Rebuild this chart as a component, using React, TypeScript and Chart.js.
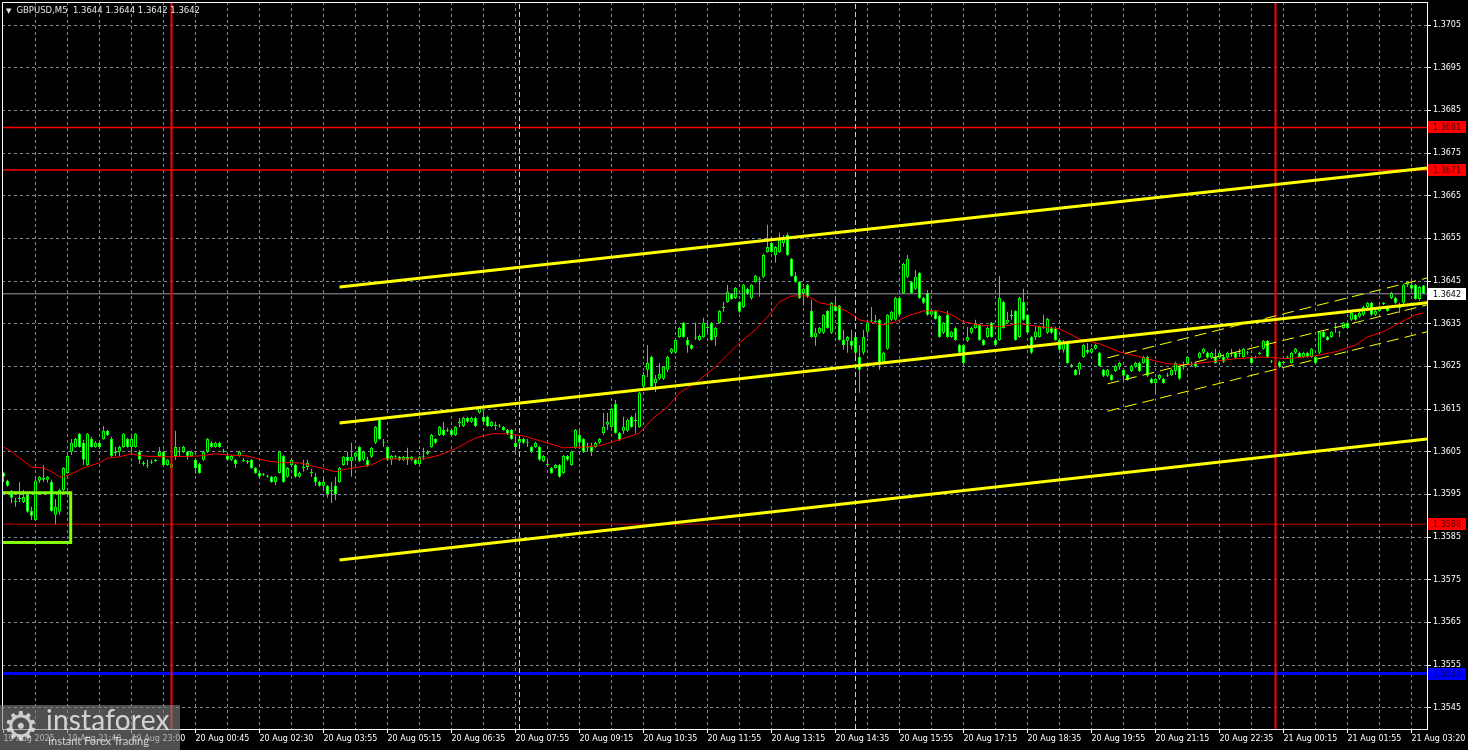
import React, { useEffect, useRef } from "react";
import { Chart, registerables } from "chart.js";

Chart.register(...registerables);

// ---------------- data ----------------
const SYMBOL_TITLE = "GBPUSD,M5";
const LAST_BAR = [1.3644, 1.3644, 1.3642, 1.3642];

const X_LABELS = [
  "19 Aug 2025", "19 Aug 21:40", "19 Aug 23:00", "20 Aug 00:45", "20 Aug 02:30", "20 Aug 03:55",
  "20 Aug 05:15", "20 Aug 06:35", "20 Aug 07:55", "20 Aug 09:15", "20 Aug 10:35", "20 Aug 11:55",
  "20 Aug 13:15", "20 Aug 14:35", "20 Aug 15:55", "20 Aug 17:15", "20 Aug 18:35", "20 Aug 19:55",
  "20 Aug 21:15", "20 Aug 22:35", "21 Aug 00:15", "21 Aug 01:55", "21 Aug 03:20",
];

const Y_TICKS = [
  1.3545, 1.3555, 1.3565, 1.3575, 1.3585, 1.3595, 1.3605, 1.3615, 1.3625,
  1.3635, 1.3645, 1.3655, 1.3665, 1.3675, 1.3685, 1.3695, 1.3705,
];

const OPENS = [
  1.36000,1.35982,1.35958,1.35935,1.35939,1.35932,1.35949,1.35911,1.35890,1.35982,
  1.35989,1.35984,1.35979,1.35902,1.35909,1.35960,1.36000,1.36050,1.36061,1.36092,
  1.36071,1.36019,1.36080,1.36061,1.36071,1.36080,1.36099,1.36080,1.36047,1.36050,
  1.36061,1.36080,1.36061,1.36061,1.36050,1.36024,1.36019,1.36024,1.36028,1.36040,
  1.36050,1.36019,1.36021,1.36040,1.36052,1.36050,1.36050,1.36040,1.36031,1.36021,
  1.36031,1.36050,1.36071,1.36061,1.36071,1.36052,1.36040,1.36031,1.36031,1.36040,
  1.36031,1.36028,1.36031,1.36012,1.36000,1.35996,1.35993,1.35991,1.35979,1.36000,
  1.36040,1.35991,1.36019,1.36019,1.35991,1.36012,1.36014,1.36003,1.35991,1.35979,
  1.35970,1.35970,1.35958,1.35970,1.35979,1.36019,1.36038,1.36028,1.36038,1.36061,
  1.36031,1.36031,1.36038,1.36071,1.36125,1.36073,1.36061,1.36031,1.36040,1.36038,
  1.36031,1.36038,1.36031,1.36031,1.36021,1.36038,1.36045,1.36061,1.36080,1.36089,
  1.36101,1.36099,1.36101,1.36089,1.36117,1.36110,1.36129,1.36120,1.36129,1.36141,
  1.36132,1.36132,1.36110,1.36113,1.36110,1.36108,1.36101,1.36101,1.36071,1.36071,
  1.36080,1.36073,1.36061,1.36061,1.36061,1.36028,1.36021,1.36012,1.36012,1.36019,
  1.36000,1.36040,1.36019,1.36059,1.36089,1.36080,1.36059,1.36061,1.36061,1.36071,
  1.36094,1.36113,1.36108,1.36162,1.36094,1.36099,1.36099,1.36132,1.36122,1.36108,
  1.36202,1.36242,1.36272,1.36211,1.36221,1.36221,1.36242,1.36282,1.36282,1.36319,
  1.36352,1.36312,1.36300,1.36317,1.36312,1.36319,1.36343,1.36352,1.36319,1.36352,
  1.36387,1.36401,1.36420,1.36410,1.36401,1.36389,1.36432,1.36410,1.36448,1.36455,
  1.36460,1.36518,1.36539,1.36511,1.36518,1.36539,1.36558,1.36502,1.36462,1.36448,
  1.36422,1.36441,1.36380,1.36319,1.36329,1.36329,1.36380,1.36329,1.36392,1.36392,
  1.36312,1.36310,1.36310,1.36319,1.36272,1.36282,1.36331,1.36357,1.36357,1.36359,
  1.36261,1.36291,1.36359,1.36359,1.36410,1.36422,1.36460,1.36448,1.36432,1.36469,
  1.36410,1.36422,1.36371,1.36380,1.36368,1.36329,1.36371,1.36319,1.36340,1.36300,
  1.36300,1.36310,1.36329,1.36340,1.36347,1.36312,1.36319,1.36352,1.36312,1.36312,
  1.36401,1.36352,1.36368,1.36380,1.36319,1.36401,1.36371,1.36319,1.36319,1.36319,
  1.36340,1.36329,1.36340,1.36340,1.36312,1.36289,1.36307,1.36254,1.36242,1.36242,
  1.36272,1.36289,1.36282,1.36291,1.36282,1.36242,1.36228,1.36230,1.36239,1.36249,
  1.36242,1.36230,1.36239,1.36249,1.36258,1.36258,1.36272,1.36221,1.36211,1.36221,
  1.36221,1.36228,1.36230,1.36239,1.36249,1.36249,1.36258,1.36256,1.36258,1.36270,
  1.36282,1.36282,1.36270,1.36272,1.36270,1.36272,1.36270,1.36279,1.36282,1.36279,
  1.36272,1.36284,1.36272,1.36270,1.36279,1.36291,1.36310,1.36263,1.36270,1.36261,
  1.36258,1.36270,1.36258,1.36282,1.36282,1.36272,1.36282,1.36272,1.36272,1.36282,
  1.36331,1.36319,1.36319,1.36340,1.36331,1.36340,1.36352,1.36359,1.36371,1.36366,
  1.36371,1.36389,1.36399,1.36371,1.36380,1.36396,1.36389,1.36410,1.36410,1.36389,
  1.36399,1.36441,1.36441,1.36441,1.36408,1.36440,
];

const HIGHS = [
  1.36003,1.35984,1.35960,1.35942,1.35979,1.35960,1.35953,1.35921,1.35991,1.35993,
  1.36019,1.35993,1.35984,1.35939,1.35963,1.36014,1.36042,1.36080,1.36082,1.36094,
  1.36078,1.36094,1.36085,1.36075,1.36073,1.36110,1.36101,1.36085,1.36061,1.36064,
  1.36094,1.36082,1.36092,1.36094,1.36054,1.36028,1.36031,1.36031,1.36033,1.36061,
  1.36052,1.36033,1.36026,1.36099,1.36061,1.36064,1.36052,1.36052,1.36035,1.36024,
  1.36052,1.36082,1.36075,1.36073,1.36073,1.36057,1.36042,1.36042,1.36033,1.36052,
  1.36035,1.36031,1.36033,1.36014,1.36003,1.36000,1.35996,1.35993,1.35993,1.36052,
  1.36042,1.36014,1.36033,1.36021,1.36003,1.36031,1.36031,1.36010,1.36000,1.35982,
  1.35991,1.35972,1.35979,1.35991,1.36014,1.36040,1.36050,1.36071,1.36050,1.36064,
  1.36052,1.36038,1.36061,1.36110,1.36129,1.36080,1.36064,1.36042,1.36042,1.36040,
  1.36040,1.36059,1.36040,1.36033,1.36040,1.36059,1.36054,1.36092,1.36082,1.36110,
  1.36120,1.36106,1.36103,1.36110,1.36129,1.36132,1.36132,1.36132,1.36132,1.36155,
  1.36143,1.36134,1.36122,1.36120,1.36115,1.36110,1.36103,1.36103,1.36085,1.36082,
  1.36082,1.36080,1.36064,1.36073,1.36064,1.36042,1.36028,1.36014,1.36021,1.36021,
  1.36042,1.36042,1.36052,1.36103,1.36101,1.36082,1.36071,1.36071,1.36073,1.36082,
  1.36141,1.36141,1.36153,1.36171,1.36096,1.36132,1.36127,1.36134,1.36141,1.36190,
  1.36237,1.36300,1.36275,1.36230,1.36258,1.36251,1.36275,1.36293,1.36314,1.36343,
  1.36354,1.36319,1.36303,1.36352,1.36324,1.36364,1.36352,1.36354,1.36343,1.36382,
  1.36401,1.36441,1.36422,1.36436,1.36404,1.36443,1.36434,1.36443,1.36464,1.36460,
  1.36514,1.36582,1.36542,1.36532,1.36563,1.36558,1.36563,1.36504,1.36471,1.36450,
  1.36434,1.36443,1.36406,1.36340,1.36343,1.36373,1.36382,1.36401,1.36413,1.36394,
  1.36336,1.36321,1.36336,1.36321,1.36300,1.36336,1.36359,1.36389,1.36371,1.36361,
  1.36284,1.36373,1.36380,1.36413,1.36413,1.36493,1.36511,1.36450,1.36476,1.36471,
  1.36413,1.36429,1.36382,1.36382,1.36371,1.36354,1.36380,1.36333,1.36343,1.36303,
  1.36303,1.36343,1.36343,1.36359,1.36350,1.36314,1.36343,1.36354,1.36314,1.36462,
  1.36404,1.36378,1.36382,1.36382,1.36413,1.36432,1.36373,1.36321,1.36343,1.36345,
  1.36371,1.36364,1.36343,1.36343,1.36314,1.36312,1.36310,1.36256,1.36244,1.36261,
  1.36303,1.36305,1.36293,1.36303,1.36284,1.36244,1.36244,1.36232,1.36254,1.36261,
  1.36244,1.36232,1.36254,1.36261,1.36261,1.36275,1.36275,1.36223,1.36223,1.36232,
  1.36223,1.36235,1.36244,1.36261,1.36251,1.36261,1.36275,1.36261,1.36261,1.36284,
  1.36293,1.36284,1.36284,1.36291,1.36284,1.36275,1.36284,1.36291,1.36284,1.36291,
  1.36293,1.36286,1.36275,1.36275,1.36284,1.36312,1.36312,1.36265,1.36275,1.36263,
  1.36263,1.36275,1.36284,1.36293,1.36284,1.36284,1.36284,1.36293,1.36275,1.36333,
  1.36333,1.36321,1.36333,1.36352,1.36333,1.36354,1.36354,1.36378,1.36373,1.36378,
  1.36392,1.36401,1.36401,1.36382,1.36392,1.36401,1.36392,1.36425,1.36413,1.36399,
  1.36443,1.36450,1.36448,1.36443,1.36439,1.36440,
];

const LOWS = [
  1.35979,1.35968,1.35930,1.35921,1.35932,1.35930,1.35907,1.35890,1.35888,1.35977,
  1.35979,1.35977,1.35909,1.35878,1.35902,1.35958,1.35998,1.36042,1.36059,1.36059,
  1.36019,1.36017,1.36059,1.36059,1.36059,1.36078,1.36087,1.36038,1.36040,1.36040,
  1.36059,1.36059,1.36050,1.36059,1.36021,1.36017,1.36012,1.36021,1.36026,1.36038,
  1.36017,1.36017,1.36010,1.36031,1.36040,1.36047,1.36031,1.36038,1.35998,1.35998,
  1.36028,1.36047,1.36059,1.36059,1.36059,1.36047,1.36028,1.36028,1.36012,1.36038,
  1.36026,1.36021,1.36010,1.35998,1.35989,1.35993,1.35989,1.35977,1.35972,1.35998,
  1.35977,1.35989,1.36017,1.35989,1.35989,1.36003,1.36007,1.35991,1.35970,1.35968,
  1.35960,1.35942,1.35930,1.35937,1.35977,1.36017,1.36019,1.35991,1.36035,1.36026,
  1.36028,1.36014,1.36035,1.36068,1.36078,1.36061,1.36028,1.36019,1.36033,1.36028,
  1.36028,1.36019,1.36028,1.36019,1.36019,1.36031,1.36042,1.36059,1.36068,1.36087,
  1.36087,1.36096,1.36087,1.36087,1.36108,1.36108,1.36117,1.36117,1.36108,1.36139,
  1.36117,1.36108,1.36108,1.36101,1.36106,1.36099,1.36089,1.36078,1.36050,1.36068,
  1.36068,1.36061,1.36047,1.36059,1.36028,1.36026,1.36014,1.35998,1.36010,1.35989,
  1.35998,1.36028,1.36017,1.36057,1.36061,1.36047,1.36050,1.36040,1.36059,1.36068,
  1.36089,1.36101,1.36106,1.36092,1.36075,1.36092,1.36096,1.36106,1.36094,1.36106,
  1.36195,1.36225,1.36200,1.36190,1.36218,1.36218,1.36237,1.36279,1.36279,1.36317,
  1.36317,1.36282,1.36289,1.36312,1.36310,1.36317,1.36328,1.36310,1.36298,1.36350,
  1.36378,1.36399,1.36406,1.36408,1.36375,1.36387,1.36418,1.36406,1.36446,1.36413,
  1.36457,1.36516,1.36516,1.36493,1.36516,1.36530,1.36509,1.36460,1.36446,1.36408,
  1.36392,1.36410,1.36317,1.36298,1.36326,1.36326,1.36338,1.36326,1.36378,1.36310,
  1.36289,1.36282,1.36289,1.36265,1.36188,1.36277,1.36319,1.36354,1.36352,1.36242,
  1.36258,1.36289,1.36357,1.36357,1.36368,1.36420,1.36457,1.36420,1.36429,1.36408,
  1.36396,1.36368,1.36368,1.36359,1.36317,1.36326,1.36317,1.36317,1.36310,1.36277,
  1.36251,1.36307,1.36326,1.36338,1.36310,1.36298,1.36317,1.36317,1.36298,1.36310,
  1.36338,1.36350,1.36359,1.36310,1.36317,1.36357,1.36326,1.36279,1.36312,1.36317,
  1.36338,1.36326,1.36326,1.36310,1.36286,1.36282,1.36256,1.36247,1.36228,1.36230,
  1.36270,1.36279,1.36279,1.36289,1.36249,1.36225,1.36225,1.36216,1.36237,1.36242,
  1.36218,1.36216,1.36237,1.36247,1.36237,1.36256,1.36225,1.36209,1.36183,1.36218,
  1.36209,1.36225,1.36228,1.36230,1.36218,1.36242,1.36256,1.36251,1.36247,1.36268,
  1.36279,1.36268,1.36268,1.36256,1.36268,1.36258,1.36268,1.36272,1.36268,1.36272,
  1.36270,1.36277,1.36256,1.36268,1.36277,1.36289,1.36270,1.36258,1.36228,1.36247,
  1.36256,1.36268,1.36256,1.36279,1.36270,1.36270,1.36270,1.36270,1.36256,1.36279,
  1.36317,1.36310,1.36317,1.36329,1.36319,1.36338,1.36338,1.36357,1.36357,1.36364,
  1.36368,1.36387,1.36368,1.36368,1.36378,1.36394,1.36378,1.36408,1.36396,1.36375,
  1.36396,1.36436,1.36429,1.36406,1.36404,1.36420,
];

const CLOSES = [
  1.35991,1.35970,1.35942,1.35932,1.35942,1.35944,1.35909,1.35900,1.35982,1.35991,
  1.35984,1.35991,1.35911,1.35921,1.35960,1.36012,1.36040,1.36071,1.36080,1.36061,
  1.36031,1.36092,1.36061,1.36071,1.36061,1.36099,1.36089,1.36040,1.36050,1.36061,
  1.36092,1.36061,1.36080,1.36092,1.36031,1.36021,1.36017,1.36026,1.36031,1.36050,
  1.36019,1.36031,1.36012,1.36061,1.36050,1.36061,1.36040,1.36050,1.36012,1.36000,
  1.36050,1.36080,1.36061,1.36071,1.36061,1.36050,1.36031,1.36040,1.36021,1.36050,
  1.36028,1.36026,1.36012,1.36000,1.35991,1.35998,1.35991,1.35979,1.35991,1.36050,
  1.35979,1.36012,1.36031,1.35991,1.36000,1.36014,1.36024,1.36000,1.35979,1.35970,
  1.35979,1.35951,1.35960,1.35951,1.36012,1.36038,1.36028,1.36038,1.36047,1.36028,
  1.36050,1.36019,1.36059,1.36108,1.36080,1.36071,1.36031,1.36040,1.36038,1.36031,
  1.36038,1.36031,1.36038,1.36021,1.36038,1.36040,1.36050,1.36089,1.36071,1.36108,
  1.36089,1.36101,1.36089,1.36108,1.36120,1.36129,1.36120,1.36129,1.36110,1.36153,
  1.36120,1.36110,1.36120,1.36110,1.36109,1.36101,1.36092,1.36080,1.36061,1.36080,
  1.36071,1.36071,1.36050,1.36071,1.36031,1.36040,1.36019,1.36000,1.36019,1.35991,
  1.36040,1.36031,1.36050,1.36101,1.36071,1.36050,1.36061,1.36050,1.36071,1.36080,
  1.36108,1.36120,1.36150,1.36094,1.36078,1.36108,1.36125,1.36108,1.36125,1.36188,
  1.36230,1.36258,1.36202,1.36221,1.36232,1.36249,1.36272,1.36291,1.36312,1.36340,
  1.36319,1.36300,1.36291,1.36319,1.36321,1.36352,1.36340,1.36312,1.36340,1.36380,
  1.36389,1.36425,1.36408,1.36434,1.36378,1.36441,1.36420,1.36441,1.36462,1.36453,
  1.36511,1.36530,1.36518,1.36530,1.36546,1.36549,1.36511,1.36462,1.36448,1.36410,
  1.36432,1.36413,1.36319,1.36329,1.36340,1.36371,1.36340,1.36399,1.36380,1.36312,
  1.36300,1.36319,1.36298,1.36282,1.36242,1.36319,1.36352,1.36359,1.36354,1.36258,
  1.36282,1.36371,1.36378,1.36410,1.36371,1.36490,1.36502,1.36422,1.36460,1.36410,
  1.36399,1.36371,1.36380,1.36361,1.36319,1.36352,1.36319,1.36331,1.36312,1.36282,
  1.36258,1.36319,1.36340,1.36350,1.36312,1.36300,1.36340,1.36319,1.36300,1.36410,
  1.36340,1.36359,1.36371,1.36312,1.36410,1.36359,1.36329,1.36282,1.36331,1.36343,
  1.36343,1.36361,1.36329,1.36312,1.36289,1.36305,1.36258,1.36251,1.36230,1.36258,
  1.36300,1.36282,1.36291,1.36300,1.36251,1.36228,1.36242,1.36218,1.36251,1.36258,
  1.36228,1.36218,1.36251,1.36258,1.36239,1.36272,1.36228,1.36211,1.36221,1.36230,
  1.36211,1.36230,1.36242,1.36258,1.36221,1.36251,1.36272,1.36254,1.36249,1.36282,
  1.36291,1.36270,1.36282,1.36258,1.36282,1.36261,1.36282,1.36282,1.36270,1.36282,
  1.36291,1.36282,1.36258,1.36272,1.36282,1.36310,1.36272,1.36261,1.36272,1.36249,
  1.36261,1.36272,1.36282,1.36291,1.36272,1.36282,1.36272,1.36291,1.36258,1.36331,
  1.36319,1.36312,1.36331,1.36343,1.36329,1.36352,1.36340,1.36375,1.36359,1.36375,
  1.36389,1.36399,1.36371,1.36380,1.36389,1.36399,1.36380,1.36422,1.36399,1.36387,
  1.36441,1.36448,1.36432,1.36408,1.36436,1.36420,
];

// moving average (red), read at selected bars
const MA_BARS = [
  0, 2, 4, 7, 10, 12, 14, 15, 17, 20, 24, 26, 29, 32, 35, 39, 42, 49, 53, 57,
  61, 63, 66, 70, 74, 77, 83, 86, 89, 92, 95, 105, 109, 113, 118, 122, 126, 130, 135, 140,
  145, 149, 154, 159, 162, 166, 169, 173, 178, 181, 184, 188, 191, 194, 197, 201, 204, 208, 211, 214,
  220, 223, 226, 230, 234, 237, 240, 244, 249, 254, 259, 264, 269, 274, 279, 285, 291, 296, 302, 308,
  315, 321, 328, 333, 338, 341, 345, 349, 353, 355,
];
const MA_VALUES = [
  1.36061,1.36050,1.36035,1.36014,1.36012,1.36003,1.35991,1.35991,1.35998,1.36012,
  1.36024,1.36035,1.36038,1.36045,1.36040,1.36038,1.36038,1.36040,1.36045,1.36042,
  1.36040,1.36035,1.36028,1.36024,1.36024,1.36017,1.36003,1.36010,1.36014,1.36019,
  1.36033,1.36033,1.36042,1.36057,1.36082,1.36092,1.36092,1.36087,1.36073,1.36059,
  1.36061,1.36064,1.36078,1.36094,1.36125,1.36155,1.36188,1.36211,1.36249,1.36277,
  1.36305,1.36336,1.36366,1.36401,1.36415,1.36415,1.36399,1.36392,1.36378,1.36359,
  1.36347,1.36354,1.36368,1.36380,1.36380,1.36371,1.36354,1.36347,1.36343,1.36350,
  1.36343,1.36338,1.36314,1.36303,1.36284,1.36270,1.36256,1.36254,1.36261,1.36268,
  1.36272,1.36268,1.36275,1.36284,1.36300,1.36319,1.36331,1.36352,1.36371,1.36375,
];

const RESISTANCE_LEVELS = [1.3681, 1.3671];
const SUPPORT_LEVEL = 1.3588;
const KEY_LEVEL = 1.3553;
const CURRENT_PRICE = 1.3642;

const RED_VLINE_BARS = [42, 318];
const GREEN_VLINE_BARS = [129, 213];

const CHANNEL_BARS = [84, 355.875];
const CHANNEL_UPPER = [1.36436, 1.36715];
const CHANNEL_MIDDLE = [1.36117, 1.36399];
const CHANNEL_LOWER = [1.35796, 1.3608];

const REG_BARS = [276, 355.875];
const REG_UPPER = [1.3627, 1.36457];
const REG_MIDDLE = [1.36209, 1.36394];
const REG_LOWER = [1.36145, 1.36331];

const BOX_BARS = [-3, 16.8];
const BOX_PRICES = [1.35954, 1.35837];

// ---------------- layout / style ----------------
const X_MIN = -0.375;
const X_MAX = 355.875;
const Y_MIN = 1.354;
const Y_MAX = 1.37104;
const FONT = '"DejaVu Sans", Verdana, sans-serif';
const GRID = "#7d8a98";
const LIME = "#00ff00";

const pts = (xs: number[], ys: number[]) => xs.map((x, k) => ({ x, y: ys[k] }));

function lineDs(data: any[], color: string, width: number, dash: number[], order: number) {
  return {
    type: "line" as const,
    data,
    borderColor: color,
    backgroundColor: color,
    borderWidth: width,
    borderDash: dash,
    pointRadius: 0,
    pointHoverRadius: 0,
    fill: false,
    tension: 0,
    clip: 0,
    order,
  };
}

export default function App() {
  const ref = useRef<HTMLCanvasElement>(null);

  useEffect(() => {
    document.body.style.margin = "0";
    document.body.style.background = "#000";
    const canvas = ref.current;
    if (!canvas) return;

    const idx = OPENS.map((_, i) => i);
    const wicks = idx.map((i) => ({ x: i, y: [LOWS[i], HIGHS[i]] }));
    const bodies = idx.map((i) => ({ x: i, y: [OPENS[i], CLOSES[i]] }));
    const bodyFill = idx.map((i) => (CLOSES[i] > OPENS[i] ? "#000000" : "#ffffff"));

    const hLine = (p: number) => pts([X_MIN, X_MAX], [p, p]);
    const vLine = (b: number) => pts([b, b], [Y_MIN, Y_MAX]);

    const tags = [
      { v: RESISTANCE_LEVELS[0], bg: "#ff0000", fg: "#5a0000" },
      { v: RESISTANCE_LEVELS[1], bg: "#ff0000", fg: "#5a0000" },
      { v: SUPPORT_LEVEL, bg: "#ff0000", fg: "#5a0000" },
      { v: CURRENT_PRICE, bg: "#ffffff", fg: "#000000" },
      { v: KEY_LEVEL, bg: "#0000ff", fg: "#000050" },
    ];

    const overlay = {
      id: "mtOverlay",
      afterDraw(chart: any) {
        const { ctx, chartArea } = chart;
        const { left, top, right, bottom } = chartArea;
        const y = chart.scales.y;
        ctx.save();
        ctx.strokeStyle = "#ffffff";
        ctx.lineWidth = 1;
        ctx.beginPath();
        ctx.moveTo(left + 0.5, bottom);
        ctx.lineTo(left + 0.5, top + 0.5);
        ctx.lineTo(right, top + 0.5);
        ctx.stroke();
        ctx.font = `8px ${FONT}`;
        ctx.textBaseline = "middle";
        ctx.textAlign = "left";
        tags.forEach((t) => {
          const py = Math.round(y.getPixelForValue(t.v));
          ctx.fillStyle = t.bg;
          ctx.fillRect(right + 1, py - 6, 38, 12);
          ctx.fillStyle = t.fg;
          ctx.fillText(t.v.toFixed(4), right + 6, py + 0.5);
        });
        ctx.restore();
      },
    };

    const chart = new Chart(canvas, {
      type: "bar",
      data: {
        datasets: [
          {
            type: "bar",
            data: wicks as any,
            backgroundColor: LIME,
            borderWidth: 0,
            barThickness: 1,
            grouped: false,
            inflateAmount: 0,
            minBarLength: 1,
            order: 30,
          } as any,
          {
            type: "bar",
            data: bodies as any,
            backgroundColor: bodyFill,
            borderColor: LIME,
            borderWidth: 1,
            borderSkipped: false,
            barThickness: 3,
            grouped: false,
            inflateAmount: 0,
            minBarLength: 1,
            order: 29,
          } as any,
          lineDs(pts(MA_BARS, MA_VALUES), "#ff0000", 1, [], 10) as any,
          lineDs(hLine(RESISTANCE_LEVELS[0]), "#ff0000", 1.5, [], 8) as any,
          lineDs(hLine(RESISTANCE_LEVELS[1]), "#ff0000", 1.5, [], 8) as any,
          lineDs(hLine(SUPPORT_LEVEL), "#d00000", 1, [], 8) as any,
          lineDs(hLine(KEY_LEVEL), "#0000ff", 3, [], 8) as any,
          lineDs(hLine(CURRENT_PRICE), "#9a9aa6", 1, [], 9) as any,
          ...RED_VLINE_BARS.map((b) => lineDs(vLine(b), "#ff0000", 2, [], 7) as any),
          ...GREEN_VLINE_BARS.map((b) => lineDs(vLine(b), "#adff2f", 1, [5, 3], 7) as any),
          lineDs(pts(CHANNEL_BARS, CHANNEL_UPPER), "#ffff00", 3, [], 5) as any,
          lineDs(pts(CHANNEL_BARS, CHANNEL_MIDDLE), "#ffff00", 3, [], 5) as any,
          lineDs(pts(CHANNEL_BARS, CHANNEL_LOWER), "#ffff00", 3, [], 5) as any,
          lineDs(pts(REG_BARS, REG_UPPER), "#ffff00", 1, [12, 6], 6) as any,
          lineDs(pts(REG_BARS, REG_MIDDLE), "#ffff00", 1, [12, 6], 6) as any,
          lineDs(pts(REG_BARS, REG_LOWER), "#ffff00", 1, [12, 6], 6) as any,
          lineDs(
            pts(
              [BOX_BARS[0], BOX_BARS[1], BOX_BARS[1], BOX_BARS[0]],
              [BOX_PRICES[0], BOX_PRICES[0], BOX_PRICES[1], BOX_PRICES[1]]
            ),
            "#7fff00",
            3,
            [],
            4
          ) as any,
        ],
      },
      options: {
        responsive: false,
        maintainAspectRatio: false,
        animation: false,
        devicePixelRatio: 1,
        events: [],
        layout: { padding: { left: 2, top: 2, right: 0, bottom: 0 } },
        plugins: { legend: { display: false }, tooltip: { enabled: false } },
        scales: {
          x: {
            type: "linear",
            min: X_MIN,
            max: X_MAX,
            offset: false,
            afterBuildTicks: (scale: any) => {
              const t: any[] = [];
              for (let i = 0; i <= (X_LABELS.length - 1) * 16; i += 8) t.push({ value: i });
              scale.ticks = t;
            },
            afterFit: (scale: any) => {
              scale.height = 21;
              scale.paddingLeft = 0;
              scale.paddingRight = 0;
            },
            ticks: {
              autoSkip: false,
              maxRotation: 0,
              minRotation: 0,
              align: "start",
              padding: 1,
              color: "#ffffff",
              font: { family: FONT, size: 8 },
              callback: (v: any) => {
                const i = Math.round(Number(v));
                return i % 16 === 0 ? X_LABELS[i / 16] ?? "" : "";
              },
            },
            grid: {
              offset: false,
              color: (c: any) => (c.tick && c.tick.value === 0 ? "rgba(0,0,0,0)" : GRID),
              lineWidth: 1,
              tickLength: 4,
              tickColor: (c: any) =>
                c.tick && Math.round(c.tick.value) % 16 === 0 ? "#ffffff" : "rgba(0,0,0,0)",
            },
            border: { display: true, color: "#ffffff", width: 1, dash: [3, 3] },
          } as any,
          y: {
            type: "linear",
            position: "right",
            min: Y_MIN,
            max: Y_MAX,
            beginAtZero: false,
            afterBuildTicks: (scale: any) => {
              scale.ticks = Y_TICKS.map((v) => ({ value: v }));
            },
            afterFit: (scale: any) => {
              scale.width = 41;
              scale.paddingTop = 0;
              scale.paddingBottom = 0;
            },
            ticks: {
              padding: 2,
              color: "#ffffff",
              font: { family: FONT, size: 8 },
              callback: (v: any) => Number(v).toFixed(4),
            },
            grid: { color: GRID, lineWidth: 1, tickLength: 4, tickColor: "#ffffff" },
            border: { display: true, color: "#ffffff", width: 1, dash: [3, 3] },
          } as any,
        },
      },
      plugins: [overlay],
    });

    return () => chart.destroy();
  }, []);

  return (
    <div
      style={{
        position: "fixed",
        left: 0,
        top: 0,
        width: 1468,
        height: 750,
        background: "#000",
        overflow: "hidden",
      }}
    >
      <canvas
        ref={ref}
        width={1468}
        height={750}
        style={{ position: "absolute", left: 0, top: 0, width: 1468, height: 750 }}
      />
      <div
        style={{
          position: "absolute",
          left: 6,
          top: 5,
          font: `8.5px ${FONT}`,
          lineHeight: "10px",
          color: "#e2e8ee",
          whiteSpace: "pre",
        }}
      >
        <span style={{ fontSize: 7, marginRight: 5 }}>▼</span>
        {`${SYMBOL_TITLE}  ${LAST_BAR.map((v) => v.toFixed(4)).join(" ")}`}
      </div>
      <div
        style={{
          position: "absolute",
          left: 0,
          top: 705,
          width: 180,
          height: 45,
          background: "rgba(128,128,128,0.62)",
        }}
      >
        <div
          style={{
            position: "absolute",
            left: 3,
            top: -2,
            font: `40px ${FONT}`,
            lineHeight: "46px",
            color: "rgba(235,235,235,0.8)",
          }}
        >
          ⚙
        </div>
        <div
          style={{
            position: "absolute",
            left: 46,
            top: 0,
            font: '28px Lato, "Open Sans", sans-serif',
            lineHeight: "28px",
            color: "rgba(240,240,240,0.82)",
            letterSpacing: "0.2px",
          }}
        >
          instaforex
        </div>
        <div
          style={{
            position: "absolute",
            left: 48,
            top: 30,
            font: '11px Lato, "Open Sans", sans-serif',
            lineHeight: "12px",
            color: "rgba(240,240,240,0.8)",
          }}
        >
          Instant Forex Trading
        </div>
      </div>
    </div>
  );
}
